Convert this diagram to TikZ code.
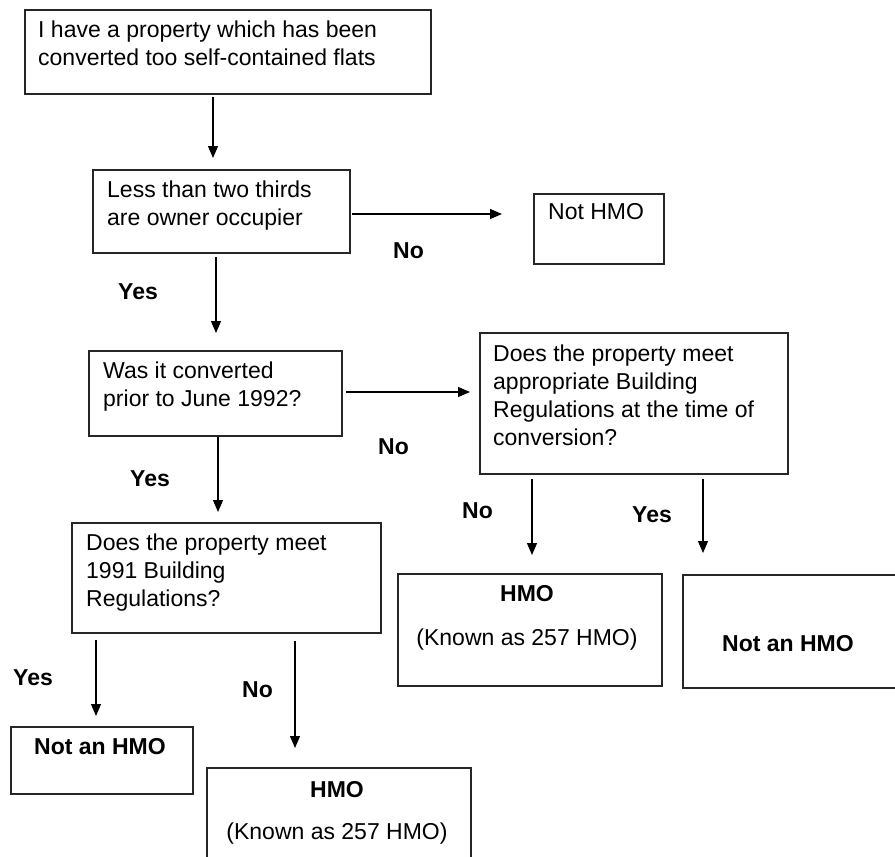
\documentclass[tikz,border=0pt]{standalone}
\usepackage{fontspec}
\setmainfont{Liberation Sans}
\usetikzlibrary{arrows.meta}
\begin{document}
\begin{tikzpicture}[x=1pt,y=-1pt,
  box/.style={draw=black!85, line width=1.5pt, anchor=north west, inner sep=0pt},
  txt/.style={anchor=base west, inner sep=0pt, font=\fontsize{23}{28}\selectfont},
  ctxt/.style={anchor=base, inner sep=0pt, font=\fontsize{23}{28}\selectfont},
  btxt/.style={anchor=base, inner sep=0pt, font=\fontsize{23}{28}\selectfont\bfseries},
  lbl/.style={anchor=base west, inner sep=0pt, font=\fontsize{23}{28}\selectfont\bfseries},
  arr/.style={line width=1.2pt, draw=black, -{Triangle[length=12pt,width=10pt]}}]
\useasboundingbox (0,0) rectangle (895,857);
\clip (0,0) rectangle (895,857);

% boxes
\node[box, minimum width=406pt, minimum height=84pt] (b1) at (24,9) {};
\node[box, minimum width=257pt, minimum height=83pt] (b2) at (92,169) {};
\node[box, minimum width=130pt, minimum height=70pt] (b3) at (533,193) {};
\node[box, minimum width=253pt, minimum height=85pt] (b4) at (88,350) {};
\node[box, minimum width=308pt, minimum height=141pt] (b5) at (479,332) {};
\node[box, minimum width=309pt, minimum height=110pt] (b6) at (71,522) {};
\node[box, minimum width=264pt, minimum height=112pt] (b7) at (397,573) {};
\node[box, minimum width=240pt, minimum height=113pt] (b8) at (682,574) {};
\node[box, minimum width=182pt, minimum height=67pt] (b9) at (10,726) {};
\node[box, minimum width=264pt, minimum height=130pt] (b10) at (206,767) {};

% texts
\node[txt] (t1a) at (38,37.5) {I have a property which has been};
\node[txt] (t1b) at (38,65.5) {converted too self-contained flats};
\node[txt] (t2a) at (107,197) {Less than two thirds};
\node[txt] (t2b) at (107,225) {are owner occupier};
\node[txt] (t3a) at (548,219) {Not HMO};
\node[txt] (t4a) at (103,378.5) {Was it converted};
\node[txt] (t4b) at (103,406.5) {prior to June 1992?};
\node[txt] (t5a) at (493,361) {Does the property meet};
\node[txt] (t5b) at (493,389) {appropriate Building};
\node[txt] (t5c) at (493,417) {Regulations at the time of};
\node[txt] (t5d) at (493,445) {conversion?};
\node[txt] (t6a) at (86,550) {Does the property meet};
\node[txt] (t6b) at (86,578) {1991 Building};
\node[txt] (t6c) at (86,606) {Regulations?};
\node[btxt] (t7a) at (527,601) {HMO};
\node[ctxt] (t7b) at (527,645) {(Known as 257 HMO)};
\node[btxt] (t8a) at (788,651) {Not an HMO};
\node[btxt] (t9a) at (100,754) {Not an HMO};
\node[btxt] (t10a) at (337,797) {HMO};
\node[ctxt] (t10b) at (337,839) {(Known as 257 HMO)};

% arrow end points
\coordinate (a1s) at (213,97);  \coordinate (a1e) at (213,158);
\coordinate (a2s) at (352,214); \coordinate (a2e) at (502,214);
\coordinate (a3s) at (216,257); \coordinate (a3e) at (216,333);
\coordinate (a4s) at (346,392); \coordinate (a4e) at (470,392);
\coordinate (a5s) at (218,437); \coordinate (a5e) at (218,512);
\coordinate (a6s) at (532,479); \coordinate (a6e) at (532,555);
\coordinate (a7s) at (703,479); \coordinate (a7e) at (703,553);
\coordinate (a8s) at (96,640);  \coordinate (a8e) at (96,716);
\coordinate (a9s) at (295,641); \coordinate (a9e) at (295,748);

\draw[arr] (a1s) -- (a1e);
\draw[arr] (a2s) -- (a2e);
\draw[arr] (a3s) -- (a3e);
\draw[arr] (a4s) -- (a4e);
\draw[arr] (a5s) -- (a5e);
\draw[arr] (a6s) -- (a6e);
\draw[arr] (a7s) -- (a7e);
\draw[arr] (a8s) -- (a8e);
\draw[arr] (a9s) -- (a9e);

% labels
\node[lbl] (l1) at (393,258) {No};
\node[lbl] (l2) at (118,299) {Yes};
\node[lbl] (l3) at (378,454) {No};
\node[lbl] (l4) at (130,486) {Yes};
\node[lbl] (l5) at (462,518) {No};
\node[lbl] (l6) at (632,522) {Yes};
\node[lbl] (l7) at (13,685) {Yes};
\node[lbl] (l8) at (242,697) {No};
\end{tikzpicture}
\end{document}
